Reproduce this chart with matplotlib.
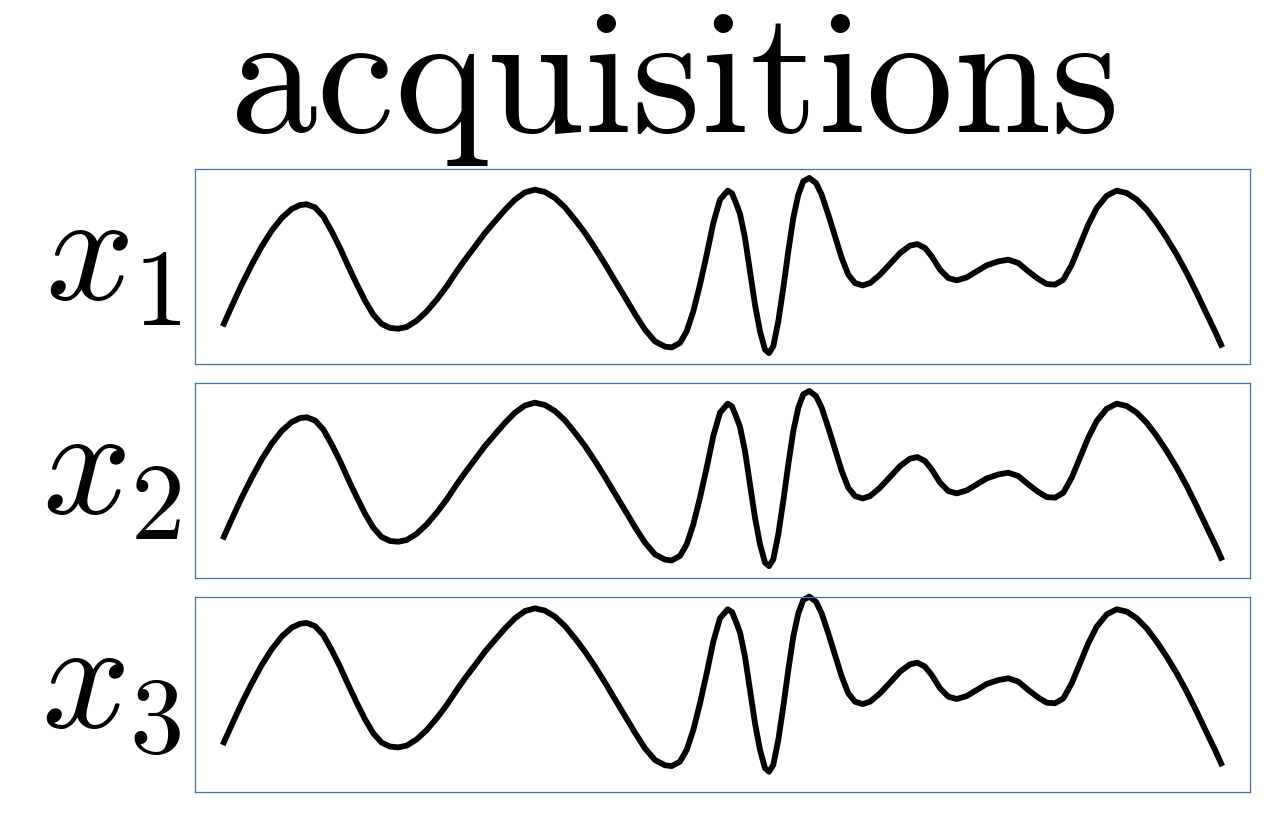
import matplotlib
matplotlib.use("Agg")
import matplotlib.pyplot as plt

plt.rcParams['mathtext.fontset'] = 'cm'

# Signal (x: position across the panel in px, y: % of panel height)
signal_x = [27.7, 36.7, 46.7, 56.7, 66.7, 76.7, 86.7, 96.7, 105.0, 111.7, 120.0, 128.3,
            136.7, 145.0, 153.3, 161.7, 170.0, 178.3, 186.7, 195.0, 203.3, 211.7, 221.7,
            231.7, 241.7, 251.7, 261.7, 270.0, 280.0, 290.0, 300.0, 310.0, 320.0, 330.0,
            340.0, 350.0, 360.0, 370.0, 380.0, 390.0, 400.0, 410.0, 420.0, 430.0, 440.0,
            450.0, 460.0, 470.0, 476.7, 485.0, 491.7, 498.3, 505.0, 511.7, 518.3, 525.0,
            532.7, 537.0, 541.0, 545.0, 550.0, 555.0, 560.0, 565.0, 570.0, 574.0, 578.3,
            583.3, 588.3, 593.3, 598.3, 603.3, 608.3, 614.3, 621.0, 626.7, 633.3, 640.0,
            646.7, 653.3, 660.0, 667.7, 675.0, 685.0, 695.0, 705.0, 715.0, 722.3, 730.0,
            736.7, 745.0, 753.3, 761.7, 771.7, 781.7, 791.7, 803.3, 813.3, 823.3, 833.3,
            843.3, 851.7, 860.0, 868.3, 876.7, 885.0, 893.3, 901.7, 911.7, 921.7, 931.7,
            941.7, 951.7, 961.7, 971.7, 981.7, 991.7, 1001.7, 1011.7, 1020.0, 1027.3]
signal_y = [19.3, 29.6, 40.7, 50.9, 60.3, 68.4, 74.9, 79.5, 81.5, 81.9, 80.3, 75.7,
            68.0, 59.5, 50.1, 41.0, 32.5, 25.3, 20.5, 18.5, 18.1, 19.0, 22.2,
            27.0, 33.0, 39.8, 47.5, 53.5, 60.3, 67.2, 73.2, 79.1, 84.3, 88.0,
            89.4, 88.2, 85.1, 80.3, 74.0, 67.2, 59.5, 51.3, 42.7, 34.2, 25.6,
            17.6, 11.6, 8.9, 8.5, 10.8, 16.8, 27.0, 40.7, 56.1, 72.3, 84.3,
            88.9, 87.5, 82.5, 77.0, 64.6, 47.5, 30.4, 16.8, 7.4, 5.6, 9.1,
            21.9, 39.0, 57.8, 74.9, 86.8, 93.7, 95.4, 92.8, 86.8, 76.6, 65.5,
            54.4, 45.8, 41.5, 40.3, 41.5, 45.8, 51.3, 56.9, 60.7, 61.5, 59.5,
            55.2, 48.4, 44.1, 42.9, 44.4, 47.5, 50.6, 52.6, 53.5, 51.8, 47.5,
            43.6, 41.0, 40.7, 43.2, 50.9, 61.2, 71.5, 80.0, 86.3, 88.9, 87.7,
            84.3, 79.1, 72.3, 64.6, 56.1, 46.7, 36.4, 25.6, 16.8, 8.5]

labels = [r'$x_1$', r'$x_2$', r'$x_3$']
panel_offsets = [0.0, 0.5, 4.8]   # vertical position of each acquisition within its box
title = r'$\mathrm{acquisitions}$'

W, H = 1280, 833
fig = plt.figure(figsize=(W / 100, H / 100), dpi=100)

box_left, box_width, box_height = 195, 1055, 195
box_tops = [169, 383, 597]
box_color = '#3f72a8'

for top, lab, off in zip(box_tops, labels, panel_offsets):
    ax = fig.add_axes([box_left / W, 1 - (top + box_height) / H, box_width / W, box_height / H])
    ax.plot(signal_x, [v + off for v in signal_y], color='black', lw=4.2,
            solid_capstyle='butt', solid_joinstyle='round', clip_on=False)
    ax.set_xlim(0, 1055)
    ax.set_ylim(0, 100)
    ax.set_xticks([])
    ax.set_yticks([])
    for s in ax.spines.values():
        s.set_color(box_color)
        s.set_linewidth(0.9)
    ax.text(-0.013, 0.55, lab, transform=ax.transAxes, ha='right', va='center',
            fontsize=112, color='black')

fig.text(672 / W, 1 - 132 / H, title, ha='center', va='baseline', fontsize=126, color='black')

fig.savefig('out.png', dpi=100, facecolor='white')
